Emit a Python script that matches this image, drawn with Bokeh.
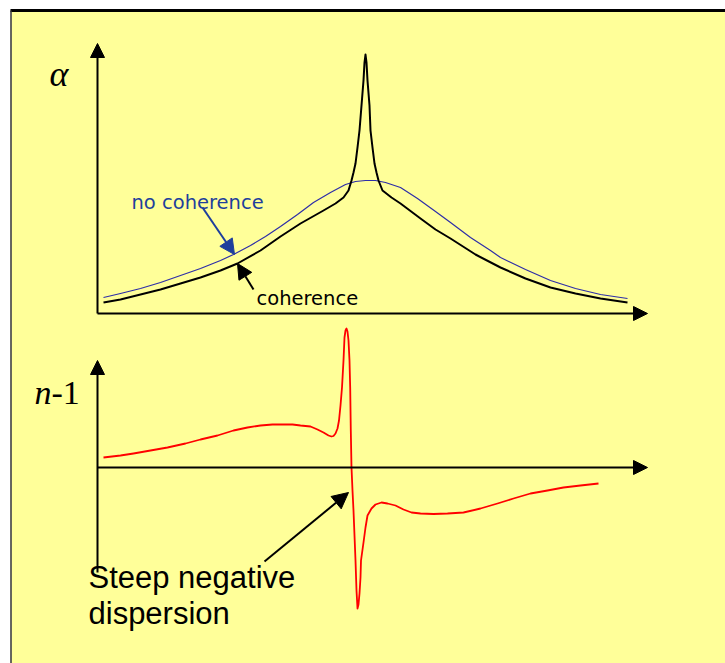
from bokeh.plotting import figure
from bokeh.models import Range1d, Arrow, NormalHead, Label
from bokeh.embed import file_html
from bokeh.resources import INLINE

# ---- data (detuning and response in arbitrary units) ----
det_no_coherence = [-2.61, -2.44, -2.24, -2.04, -1.84, -1.64, -1.44, -1.31, -1.14, -0.99, -0.84, -0.67,
                    -0.51, -0.34, -0.19, -0.09, 0.01, 0.11, 0.21, 0.36, 0.53, 0.71, 0.86, 1.06,
                    1.26, 1.36, 1.61, 1.86, 2.11, 2.36, 2.63]
alpha_no_coherence = [0.18, 0.22, 0.27, 0.33, 0.40, 0.47, 0.55, 0.61, 0.70, 0.79, 0.89, 1.01,
                      1.13, 1.23, 1.31, 1.34, 1.35, 1.35, 1.33, 1.28, 1.17, 1.04, 0.93, 0.78,
                      0.65, 0.58, 0.46, 0.35, 0.27, 0.21, 0.17]

det_coherence = [-2.61, -2.44, -2.24, -2.04, -1.84, -1.64, -1.44, -1.27, -1.04, -0.84, -0.64, -0.41,
                 -0.29, -0.21, -0.16, -0.13, -0.11, -0.09, -0.07, -0.05, -0.03, -0.01, 0.00, 0.01,
                 0.02, 0.03, 0.05, 0.06, 0.08, 0.10, 0.12, 0.14, 0.18, 0.27, 0.36, 0.56,
                 0.71, 0.86, 1.11, 1.36, 1.61, 1.86, 2.11, 2.36, 2.63]
alpha_coherence = [0.13, 0.16, 0.21, 0.26, 0.32, 0.38, 0.45, 0.52, 0.65, 0.79, 0.92, 1.05,
                   1.12, 1.18, 1.25, 1.35, 1.43, 1.52, 1.68, 1.85, 2.10, 2.35, 2.53, 2.61,
                   2.53, 2.35, 2.10, 1.85, 1.68, 1.52, 1.43, 1.35, 1.25, 1.18, 1.12, 0.97,
                   0.86, 0.77, 0.61, 0.48, 0.37, 0.28, 0.22, 0.17, 0.13]

det_index = [-2.61, -2.44, -2.31, -2.14, -1.97, -1.79, -1.64, -1.47, -1.31, -1.17, -1.04, -0.92,
             -0.81, -0.72, -0.64, -0.54, -0.47, -0.41, -0.36, -0.33, -0.31, -0.29, -0.27, -0.255,
             -0.24, -0.225, -0.21, -0.20, -0.19, -0.18, -0.17, -0.16, -0.15, -0.143, -0.137, -0.13,
             -0.12, -0.11, -0.10, -0.09, -0.08, -0.07, -0.06, -0.05, -0.04, -0.035, -0.01, 0.01,
             0.03, 0.07, 0.11, 0.17, 0.23, 0.31, 0.39, 0.47, 0.56, 0.69, 0.83, 0.99,
             1.16, 1.33, 1.49, 1.66, 1.83, 1.99, 2.16, 2.34]
n_minus_1 = [0.10, 0.12, 0.14, 0.17, 0.20, 0.24, 0.28, 0.32, 0.37, 0.40, 0.42, 0.43,
             0.43, 0.43, 0.42, 0.41, 0.38, 0.35, 0.32, 0.31, 0.315, 0.34, 0.39, 0.47,
             0.62, 0.80, 1.07, 1.30, 1.37, 1.39, 1.36, 1.27, 1.07, 0.80, 0.37, 0.00,
             -0.23, -0.43, -0.68, -0.93, -1.23, -1.41, -1.37, -1.26, -1.10, -0.93, -0.75, -0.60,
             -0.48, -0.41, -0.37, -0.35, -0.36, -0.38, -0.42, -0.45, -0.46, -0.465, -0.46, -0.45,
             -0.41, -0.36, -0.31, -0.26, -0.23, -0.20, -0.18, -0.16, -0.13]

label_alpha = "α"
label_n = "n"
label_n_rest = "-1"
label_no_coh = "no coherence"
label_coh = "coherence"
label_steep_1 = "Steep negative"
label_steep_2 = "dispersion"

# ---- figure: layout coordinates in page pixels (flipped y) ----
p = figure(width=725, height=663, x_range=Range1d(0, 725), y_range=Range1d(663, 0),
           output_backend="svg", toolbar_location=None, min_border=0,
           x_axis_type=None, y_axis_type=None)
p.grid.visible = False
p.outline_line_color = None
p.background_fill_color = "white"
p.border_fill_color = "white"

p.extra_x_ranges = {"det": Range1d(-3.64, 3.61)}
p.extra_y_ranges = {"alpha": Range1d(-3.48, 3.15), "n": Range1d(-1.96, 4.67)}

# slide panel
p.quad(left=11, right=740, top=11, bottom=680, fill_color="#FFFF99", line_color=None)
p.line([10, 740], [10, 10], line_color="black", line_width=3)
p.line([10.5, 10.5], [10, 680], line_color="#333333", line_width=1.5)

BLUE = "#1E3F9C"

# curves
p.line(det_no_coherence, alpha_no_coherence, x_range_name="det", y_range_name="alpha",
       line_color="#2E2EA8", line_width=1.2, line_join="round")
p.line(det_coherence, alpha_coherence, x_range_name="det", y_range_name="alpha",
       line_color="black", line_width=2, line_join="round")
p.line(det_index, n_minus_1, x_range_name="det", y_range_name="n",
       line_color="#FF0000", line_width=1.8, line_join="round")

def axis_arrow(x0, y0, x1, y1, color="black", width=2, size=14):
    p.add_layout(Arrow(end=NormalHead(size=size, fill_color=color, line_color=color, line_width=1),
                       x_start=x0, y_start=y0, x_end=x1, y_end=y1,
                       line_color=color, line_width=width))

# axes (top panel)
axis_arrow(97, 313, 97, 43)
axis_arrow(97, 313, 647, 313)
# axes (bottom panel)
axis_arrow(97, 572, 97, 360)
axis_arrow(97, 467, 647, 467)

# annotation arrows
axis_arrow(202, 207, 234, 254, color=BLUE, width=2, size=15)
axis_arrow(253, 289, 237, 263, color="black", width=2, size=15)
axis_arrow(264, 561, 348, 492, color="black", width=2, size=16)

def label(x, y, text, size, font="Liberation Sans", style="normal", color="black"):
    p.add_layout(Label(x=x, y=y, text=text, text_font=font, text_font_style=style,
                       text_font_size=size, text_color=color, text_baseline="alphabetic",
                       text_align="left"))

label(49, 73, label_alpha, "36px", font="Liberation Serif", style="italic")
label(34, 392, label_n, "34px", font="Liberation Serif", style="italic")
label(51, 392, label_n_rest, "34px", font="Liberation Serif")
label(131, 202, label_no_coh, "19.5px", font="DejaVu Sans", color=BLUE)
label(256, 298, label_coh, "19.5px", font="DejaVu Sans")
label(88, 577, label_steep_1, "31px")
label(88, 613, label_steep_2, "31px")

open("out.html", "w").write(file_html(p, INLINE))
